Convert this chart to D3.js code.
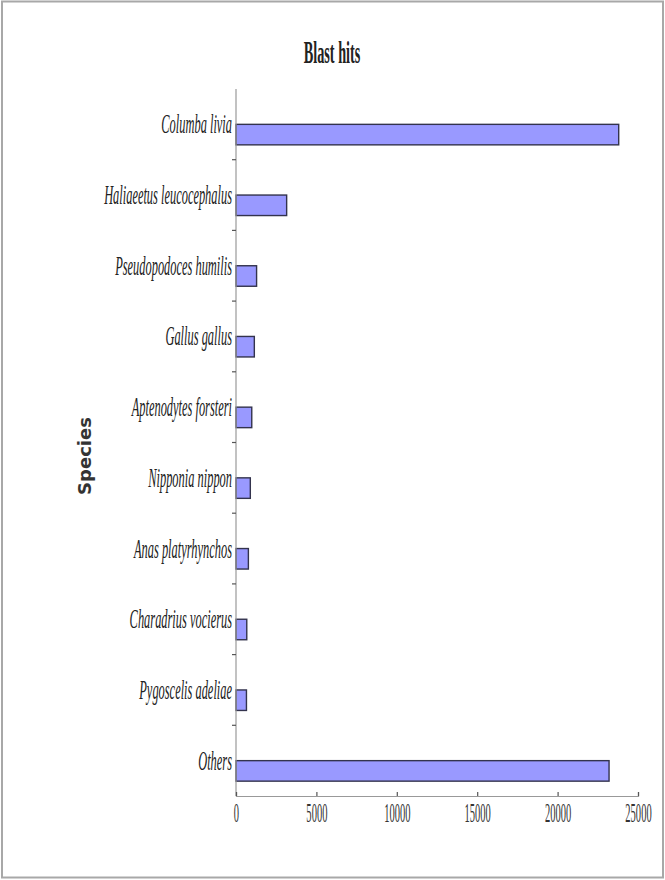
<!DOCTYPE html>
<html>
<head>
<meta charset="utf-8">
<script src="https://cdn.jsdelivr.net/npm/d3@7"></script>
<style>
    body { margin: 0; background: #fff; }
    svg { display: block; }
</style>
</head>
<body>
<svg width="665" height="880"></svg>
<script>
// values
const species = [
    "Columba livia",
    "Haliaeetus leucocephalus",
    "Pseudopodoces humilis",
    "Gallus gallus",
    "Aptenodytes forsteri",
    "Nipponia nippon",
    "Anas platyrhynchos",
    "Charadrius vocierus",
    "Pygoscelis adeliae",
    "Others"
];
const hits = [23800, 3150, 1280, 1140, 980, 890, 770, 670, 650, 23200];
const xTicks = [0, 5000, 10000, 15000, 20000, 25000];

const svg = d3.select("svg");
const W = 665, H = 880;
const serif = "'Liberation Serif', 'DejaVu Serif', serif";

// frame around the whole picture
svg.append("rect")
    .attr("x", 2).attr("y", 1.5)
    .attr("width", W - 4).attr("height", H - 4)
    .attr("fill", "none")
    .attr("stroke", "#a8a8a8")
    .attr("stroke-width", 2);

const x = d3.scaleLinear().domain([0, 25000]).range([236, 638]);
const y = d3.scaleBand().domain(species).range([89, 796]);

// title (the font in the picture is very narrow, so squeeze it)
svg.append("g")
    .attr("transform", "translate(332,63) scale(0.46,1)")
    .append("text")
    .attr("text-anchor", "middle")
    .attr("font-family", serif)
    .attr("font-weight", "bold")
    .attr("font-size", 31)
    .attr("fill", "#222")
    .text("Blast hits");

// y axis title
svg.append("text")
    .attr("transform", "translate(91,456) rotate(-90)")
    .attr("text-anchor", "middle")
    .attr("font-family", "'DejaVu Sans', sans-serif")
    .attr("font-weight", "bold")
    .attr("font-size", 18)
    .attr("fill", "#333")
    .text("Species");

// bars sit in the lower half of each band
svg.selectAll(".bar")
    .data(species)
    .enter().append("rect")
    .attr("class", "bar")
    .attr("x", x(0))
    .attr("y", d => y(d) + y.bandwidth() / 2)
    .attr("width", (d, i) => x(hits[i]) - x(0))
    .attr("height", 20.5)
    .attr("fill", "#9999ff")
    .attr("stroke", "#33334d")
    .attr("stroke-width", 1.4);

// y axis: line + ticks on band boundaries + italic labels
svg.append("line")
    .attr("x1", x(0)).attr("x2", x(0))
    .attr("y1", y.range()[0]).attr("y2", y.range()[1])
    .attr("stroke", "#999").attr("stroke-width", 1.2);

svg.selectAll(".ytick")
    .data(species.slice(1))
    .enter().append("line")
    .attr("class", "ytick")
    .attr("x1", x(0) - 4).attr("x2", x(0))
    .attr("y1", d => y(d)).attr("y2", d => y(d))
    .attr("stroke", "#555").attr("stroke-width", 1.2);

svg.selectAll(".ylabel")
    .data(species)
    .enter().append("g")
    .attr("class", "ylabel")
    .attr("transform", d => `translate(${x(0) - 4},${y(d) + y.bandwidth() / 2 + 9}) scale(0.46,1)`)
    .append("text")
    .attr("text-anchor", "end")
    .attr("font-family", serif)
    .attr("font-style", "italic")
    .attr("font-size", 27)
    .attr("fill", "#222")
    .text(d => d);

// x axis with ticks pointing up into the plot
const xAxis = svg.append("g")
    .attr("transform", `translate(0,${y.range()[1]})`)
    .call(d3.axisBottom(x).tickValues(xTicks).tickSize(-4).tickPadding(7).tickFormat(d3.format("d")));

xAxis.select(".domain").attr("stroke", "#999").attr("stroke-width", 1.2);
xAxis.selectAll(".tick line").attr("stroke", "#555").attr("stroke-width", 1.2);
xAxis.selectAll(".tick text")
    .attr("font-family", serif)
    .attr("font-size", 27)
    .attr("fill", "#333")
    .attr("transform", "scale(0.39,1)");
</script>
</body>
</html>
